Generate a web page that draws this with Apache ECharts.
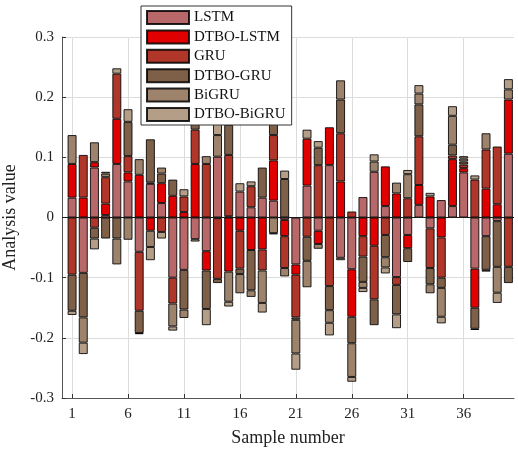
<!DOCTYPE html>
<html><head><meta charset="utf-8">
<script src="https://cdn.jsdelivr.net/npm/echarts@6/dist/echarts.min.js"></script>
<style>html,body{margin:0;padding:0;background:#fff}#c{width:518px;height:452px}</style>
</head><body><div id="c"></div>
<script>
const samples = [1,2,3,4,5,6,7,8,9,10,11,12,13,14,15,16,17,18,19,20,21,22,23,24,25,26,27,28,29,30,31,32,33,34,35,36,37,38,39,40];
const xTickValues = [1,6,11,16,21,26,31,36];
const seriesNames = ['LSTM','DTBO-LSTM','GRU','DTBO-GRU','BiGRU','DTBO-BiGRU'];

const LSTM = [0.033,-0.092,0.083,0.004,0.089,0.060,-0.057,0.056,0.024,-0.100,
  -0.087,-0.036,-0.056,0.101,0.002,0.043,0.017,0.033,0.028,-0.004,
  -0.078,0.053,-0.022,0.087,-0.067,-0.086,0.034,0.076,0.019,-0.099,
  -0.029,0.021,-0.018,0.029,0.019,0.075,-0.085,-0.031,-0.006,0.106];
const DTBO_LSTM = [0.056,0.033,0.009,0.019,0.075,0.015,0.071,-0.022,0.033,0.036,
  0.009,0.089,-0.032,-0.001,-0.090,-0.022,-0.054,-0.053,0.067,-0.027,
  -0.017,0.078,-0.022,0.063,0.060,-0.079,-0.031,-0.047,0.066,0.040,
  -0.022,0.033,0.035,-0.033,0.078,0.007,-0.065,0.048,0.022,0.090];
const GRU = [-0.095,0.071,-0.017,0.044,0.075,0.027,-0.098,0.002,-0.024,-0.043,
  0.026,0.057,0.089,-0.101,0.102,-0.063,0.035,-0.035,0.042,-0.053,
  -0.071,-0.032,0.087,-0.114,0.080,0.010,-0.034,-0.089,-0.029,-0.013,
  0.032,0.081,-0.066,-0.067,0.006,0.006,0.063,0.065,0.096,-0.082];
const DTBO_GRU = [-0.060,-0.074,-0.018,-0.035,-0.035,0.057,-0.037,0.072,0.016,0.027,
  -0.066,0.012,-0.064,-0.007,0.050,-0.009,-0.067,0.050,0.035,0.064,
  -0.004,-0.040,0.029,-0.040,0.056,-0.044,-0.042,-0.043,-0.037,-0.049,
  -0.023,0.053,-0.027,-0.017,0.018,0.005,-0.035,-0.056,-0.076,-0.027];
const BiGRU = [0.048,-0.042,0.033,0.006,-0.043,-0.037,0.026,-0.027,0.010,-0.038,
  -0.014,0.015,0.013,0.036,-0.050,-0.032,-0.011,-0.054,-0.026,-0.014,
  -0.056,-0.044,-0.008,-0.021,0.032,-0.056,-0.010,0.017,-0.017,0.018,
  0.040,0.018,-0.015,-0.048,0.048,0.005,-0.002,0.027,-0.043,0.017];
const DTBO_BiGRU = [-0.007,-0.019,-0.018,0.003,0.009,0.021,-0.002,-0.022,-0.011,-0.007,
  0.012,-0.004,-0.027,0.026,-0.008,0.014,0.008,-0.016,-0.002,0.014,
  -0.027,0.015,0.011,-0.021,-0.004,-0.008,-0.007,0.012,-0.010,-0.023,
  0.007,0.014,0.006,-0.011,0.016,0.004,0.007,-0.003,-0.017,0.017];

const seriesValues = [LSTM, DTBO_LSTM, GRU, DTBO_GRU, BiGRU, DTBO_BiGRU];
const colors = ['#B86868','#E00000','#AF3628','#7E6049','#9D836C','#B49E88'];

const FONT = 'Liberation Serif';
const chart = echarts.init(document.getElementById('c'), null, {renderer:'canvas'});

const W = 518 - 62 - 4;            // plot width
const unit = W / 40.4;             // px per sample (x range 0.1..40.5)
const barLeft = 62 + 0.4 * unit;

const series = seriesValues.map((vals, i) => ({
  name: seriesNames[i],
  type: 'bar',
  xAxisIndex: 1, yAxisIndex: 1,
  stack: 'all',
  barWidth: 9,
  data: vals,
  itemStyle: { color: colors[i], borderColor: 'rgba(0,0,0,0.85)', borderWidth: 1 },
  emphasis: { disabled: true }
}));
series.push({
  type: 'line', xAxisIndex: 0, yAxisIndex: 0, data: [[1, 0]],
  symbol: 'none', lineStyle: { width: 0 }, silent: true, z: 6,
  markLine: { silent: true, symbol: 'none', label: { show: false },
    lineStyle: { color: '#1a1a1a', width: 1, type: 'solid' },
    data: [{ yAxis: 0 }] }
});

chart.setOption({
  animation: false,
  textStyle: { fontFamily: FONT },
  grid: [
    { left: 62, right: 4, top: 37, bottom: 54, containLabel: false, outerBoundsMode: 'none' },
    { left: barLeft, right: 4, top: 37, bottom: 54, containLabel: false, outerBoundsMode: 'none' }
  ],
  legend: {
    data: seriesNames, orient: 'vertical', left: 141, top: 6,
    icon: 'rect', itemWidth: 42, itemHeight: 13, itemGap: 4.4,
    padding: [4, 6, 3, 5],
    backgroundColor: '#fff', borderColor: '#333', borderWidth: 1,
    textStyle: { fontFamily: FONT, fontSize: 15, color: '#111', lineHeight: 14 },
    selectedMode: false
  },
  xAxis: [
    { type: 'value', gridIndex: 0, min: 0.1, max: 40.5,
      name: 'Sample number', nameLocation: 'middle', nameGap: 31,
      nameTextStyle: { fontFamily: FONT, fontSize: 18, color: '#222' },
      axisLine: { show: true, onZero: false, lineStyle: { color: '#555', width: 1 } },
      axisTick: { show: true, inside: true, length: 4, customValues: xTickValues, lineStyle: { color: '#333' } },
      axisLabel: { customValues: xTickValues, fontFamily: FONT, fontSize: 15, color: '#222', margin: 9 },
      splitLine: { show: true, lineStyle: { color: '#dcdcdc', width: 1 } } },
    { type: 'category', gridIndex: 1, data: samples, show: false,
      axisLine: { show: false }, axisTick: { show: false }, axisLabel: { show: false }, splitLine: { show: false } }
  ],
  yAxis: [
    { type: 'value', gridIndex: 0, min: -0.3, max: 0.3, interval: 0.1,
      name: 'Analysis value', nameLocation: 'middle', nameGap: 37,
      nameTextStyle: { fontFamily: FONT, fontSize: 18, color: '#222' },
      axisLine: { show: true, onZero: false, lineStyle: { color: '#555', width: 1 } },
      axisTick: { show: true, inside: true, length: 4, lineStyle: { color: '#333' } },
      axisLabel: { fontFamily: FONT, fontSize: 15, color: '#222', margin: 8,
        formatter: v => { const r = Math.round(v * 10) / 10; return r === 0 ? '0' : String(r); } },
      splitLine: { show: true, lineStyle: { color: '#dcdcdc', width: 1 } } },
    { type: 'value', gridIndex: 1, min: -0.3, max: 0.3, interval: 0.1, show: false,
      axisLine: { show: false }, axisTick: { show: false }, axisLabel: { show: false }, splitLine: { show: false } }
  ],
  series: series
});
</script></body></html>
